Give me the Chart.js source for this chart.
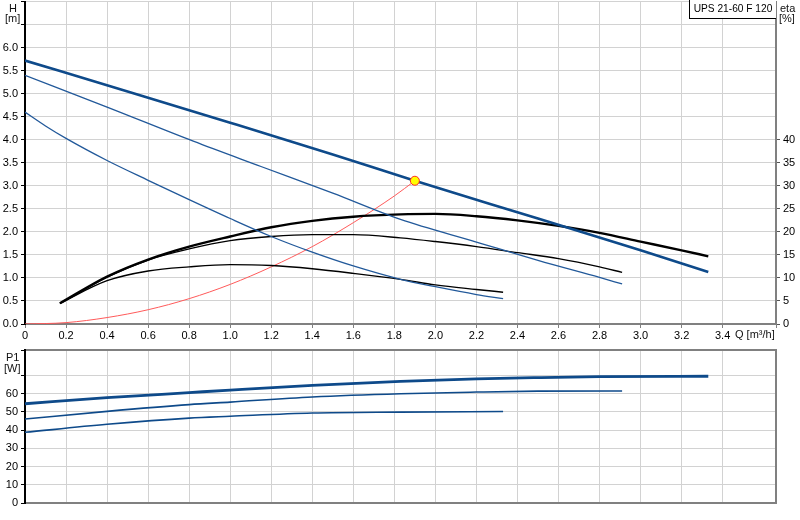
<!DOCTYPE html>
<html>
<head>
<meta charset="utf-8">
<script src="https://cdn.jsdelivr.net/npm/chart.js@4.4.0/dist/chart.umd.min.js"></script>
<style>
  body { margin: 0; background: #fff; font-family: "Liberation Sans", Arial, sans-serif; }
  #wrap { position: relative; width: 800px; height: 520px; overflow: hidden; }
  canvas { position: absolute; left: 0; }
  .lbl { position: absolute; font-size: 11px; color: #111; line-height: 11px; white-space: nowrap; }
  #typeBox { position: absolute; left: 689px; top: 0; width: 86px; height: 18px; border-left: 1px solid #000;
    border-bottom: 1px solid #000; font-size: 10.2px; line-height: 18px; text-align: center; background: #fff;
    white-space: nowrap; overflow: hidden; }
</style>
</head>
<body>
<div id="wrap">
  <canvas id="qh" width="800" height="358" style="top:-8px"></canvas>
  <canvas id="p1" width="800" height="180" style="top:340px"></canvas>
  <div class="lbl" style="left:9px;top:3px">H</div>
  <div class="lbl" style="left:5px;top:13px">[m]</div>
  <div class="lbl" style="left:780px;top:3px">eta</div>
  <div class="lbl" style="left:779px;top:13px">[%]</div>
  <div class="lbl" style="left:6px;top:352px">P1</div>
  <div class="lbl" style="left:4px;top:363px">[W]</div>
  <div class="lbl" style="left:735px;top:329px">Q [m³/h]</div>
  <div id="typeBox">UPS 21-60 F 120</div>
</div>
<script>
// head curves H [m] vs Q [m3/h], speeds 3 / 2 / 1
const qH3 = [0, 0.5, 1.0, 1.5, 1.9, 2.5, 3.0, 3.33];
const h3 = [5.72, 5.05, 4.37, 3.68, 3.11, 2.29, 1.60, 1.13];
const qH2 = [0, 0.4, 0.82, 1.15, 1.5, 1.83, 2.2, 2.5, 2.8, 2.91];
const h2 = [5.40, 4.71, 3.97, 3.42, 2.84, 2.27, 1.78, 1.38, 1.01, 0.87];
const qH1 = [0, 0.1, 0.2, 0.4, 0.6, 0.8, 1.0, 1.2, 1.4, 1.6, 1.83, 2.0, 2.2, 2.33];
const h1 = [4.60, 4.30, 4.03, 3.55, 3.12, 2.70, 2.29, 1.90, 1.56, 1.26, 0.97, 0.81, 0.64, 0.55];

// efficiency eta [%]
const qE3 = [0.17, 0.4, 0.6, 0.8, 1.0, 1.2, 1.4, 1.6, 1.83, 2.0, 2.2, 2.4, 2.6, 2.8, 3.0, 3.2, 3.33];
const eta3 = [4.5, 10.3, 14.0, 16.8, 19.0, 21.0, 22.4, 23.3, 23.8, 23.9, 23.4, 22.5, 21.3, 19.8, 17.9, 16.0, 14.7];
const qE2 = [0.17, 0.4, 0.6, 0.8, 1.0, 1.2, 1.4, 1.6, 1.83, 2.0, 2.2, 2.4, 2.6, 2.8, 2.91];
const eta2 = [4.5, 10.2, 13.9, 16.3, 18.1, 19.0, 19.4, 19.4, 18.7, 17.9, 16.8, 15.5, 14.2, 12.4, 11.2];
const qE1 = [0.17, 0.4, 0.6, 0.8, 1.0, 1.2, 1.4, 1.6, 1.83, 2.0, 2.2, 2.33];
const eta1 = [4.5, 9.4, 11.5, 12.4, 12.9, 12.7, 12.0, 11.0, 9.7, 8.5, 7.5, 6.9];

// system curve + duty point
const qSys = [0, 0.2, 0.4, 0.6, 0.8, 1.0, 1.2, 1.4, 1.6, 1.8, 1.9];
const hSys = [0, 0.03, 0.14, 0.31, 0.55, 0.86, 1.24, 1.68, 2.20, 2.78, 3.11];
const dutyQ = [1.9];
const dutyH = [3.11];

// power P1 [W]
const qP3 = [0, 0.4, 0.8, 1.0, 1.4, 1.83, 2.2, 2.48, 2.8, 3.33];
const p3 = [54.5, 57.8, 60.6, 62.0, 64.6, 66.8, 68.1, 68.8, 69.4, 69.6];
const qP2 = [0, 0.4, 0.8, 1.0, 1.4, 1.83, 2.2, 2.5, 2.91];
const p2 = [46.1, 50.3, 54.0, 55.4, 58.2, 60.0, 60.9, 61.4, 61.5];
const qP1 = [0, 0.4, 0.8, 1.0, 1.4, 1.83, 2.33];
const p1 = [38.8, 43.2, 46.6, 47.6, 49.4, 49.9, 50.2];

const qMax = 3.66;

Chart.defaults.font.family = '"Liberation Sans", Arial, sans-serif';
Chart.defaults.font.size = 11;
Chart.defaults.color = '#000';

const pts = (xs, ys) => xs.map((x, i) => ({ x: x, y: ys[i] }));
const round1 = v => (Math.round(v * 10) / 10).toFixed(1);

const blueThick = '#0e4a8a';
const blueThin = '#22599a';
const gridCol = '#d2d2d2';

function curve(data, color, width, axis) {
    return {
        data: data,
        borderColor: color,
        borderWidth: width,
        pointRadius: 0,
        fill: false,
        cubicInterpolationMode: 'monotone',
        yAxisID: axis,
    };
}

new Chart(document.getElementById('qh'), {
    type: 'line',
    data: {
        datasets: [
            {
                data: pts(dutyQ, dutyH),
                showLine: false,
                pointRadius: 4.5,
                pointBackgroundColor: '#ffff00',
                pointBorderColor: '#ff2a2a',
                pointBorderWidth: 1,
                yAxisID: 'y',
            },
            curve(pts(qH3, h3), blueThick, 2.6, 'y'),
            curve(pts(qH2, h2), blueThin, 1.3, 'y'),
            curve(pts(qH1, h1), blueThin, 1.3, 'y'),
            curve(pts(qE3, eta3), '#000', 2.4, 'eta'),
            curve(pts(qE2, eta2), '#000', 1.4, 'eta'),
            curve(pts(qE1, eta1), '#000', 1.4, 'eta'),
            curve(pts(qSys, hSys), '#ff5a5a', 1, 'y'),
        ],
    },
    options: {
        responsive: false,
        animation: false,
        layout: { padding: 0 },
        plugins: { legend: { display: false }, tooltip: { enabled: false } },
        scales: {
            x: {
                type: 'linear',
                min: 0,
                max: qMax,
                afterFit: s => { s.height = 26; },
                ticks: {
                    stepSize: 0.2,
                    padding: 1,
                    maxRotation: 0,
                    autoSkip: false,
                    callback: v => (v === 0 ? '0' : v > 3.5 ? '' : round1(v)),
                },
                grid: { color: gridCol, tickLength: 4, tickColor: '#808080' },
                border: { color: '#808080', width: 2 },
            },
            y: {
                position: 'left',
                min: 0,
                max: 7,
                afterFit: s => { s.width = 25; },
                ticks: {
                    stepSize: 0.5,
                    padding: 3,
                    callback: v => (v > 6.01 ? '' : round1(v)),
                },
                grid: { color: gridCol, tickLength: 4, tickColor: '#000' },
                border: { color: '#000', width: 2 },
            },
            eta: {
                position: 'right',
                min: 0,
                max: 70,
                afterFit: s => { s.width = 24; },
                ticks: {
                    stepSize: 5,
                    padding: 3,
                    callback: v => (v > 40 ? '' : String(v)),
                },
                grid: {
                    drawOnChartArea: false,
                    tickLength: 4,
                    tickColor: c => (c.tick && c.tick.value > 40 ? 'rgba(0,0,0,0)' : '#555'),
                },
                border: { color: '#808080', width: 2 },
            },
        },
    },
});

new Chart(document.getElementById('p1'), {
    type: 'line',
    data: {
        datasets: [
            curve(pts(qP3, p3), blueThick, 2.8, 'y'),
            curve(pts(qP2, p2), blueThick, 1.6, 'y'),
            curve(pts(qP1, p1), blueThick, 1.6, 'y'),
        ],
    },
    options: {
        responsive: false,
        animation: false,
        layout: { padding: { top: 10, left: 0, right: 0, bottom: 0 } },
        plugins: { legend: { display: false }, tooltip: { enabled: false } },
        scales: {
            x: {
                type: 'linear',
                min: 0,
                max: qMax,
                afterFit: s => { s.height = 17; },
                ticks: { stepSize: 0.2, display: false },
                grid: { color: gridCol, drawTicks: false },
                border: { color: '#808080', width: 2 },
            },
            xTop: {
                type: 'linear',
                position: 'top',
                min: 0,
                max: 1,
                afterFit: s => { s.height = 0; },
                ticks: { display: false },
                grid: { display: false },
                border: { color: '#808080', width: 2 },
            },
            y: {
                position: 'left',
                min: 0,
                max: 84,
                afterFit: s => { s.width = 25; },
                ticks: {
                    stepSize: 10,
                    padding: 3,
                    callback: v => (v > 60 ? '' : String(v)),
                },
                grid: { color: gridCol, tickLength: 4, tickColor: '#000' },
                border: { color: '#000', width: 2 },
            },
            yRight: {
                position: 'right',
                min: 0,
                max: 1,
                afterFit: s => { s.width = 24; },
                ticks: { display: false },
                grid: { display: false },
                border: { color: '#808080', width: 2 },
            },
        },
    },
});
</script>
</body>
</html>
